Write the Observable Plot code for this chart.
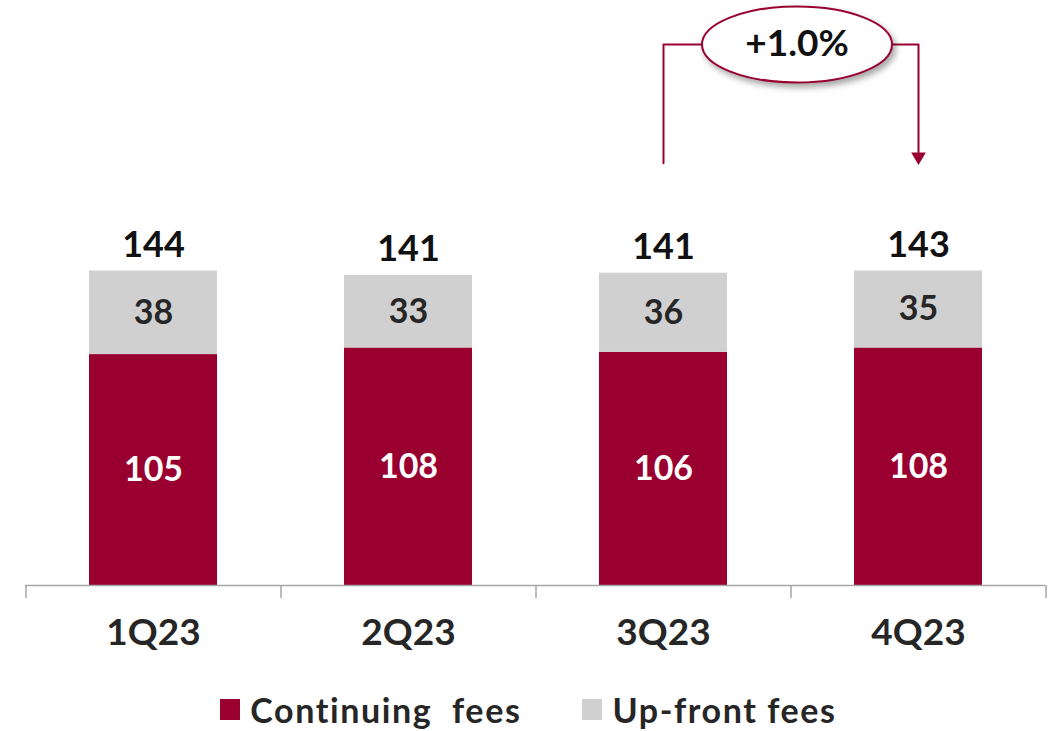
<!DOCTYPE html>
<html>
<head>
<meta charset="utf-8">
<script src="https://cdn.jsdelivr.net/npm/d3@7"></script>
<script src="https://cdn.jsdelivr.net/npm/@observablehq/plot@0.6"></script>
<style>
  html, body { margin: 0; padding: 0; background: #fff; }
  body { width: 1053px; height: 731px; overflow: hidden; font-family: Lato, "Open Sans", sans-serif; }
  #legend { display: flex; justify-content: center; align-items: center; gap: 61px; height: 51px; padding-top: 7px; box-sizing: border-box; font-family: Lato, sans-serif; font-weight: 700; font-size: 34px; letter-spacing: 1.6px; color: #262626; margin-left: 4px; }
  #legend .item { display: flex; align-items: center; gap: 10px; white-space: pre; }
  #legend .sw { width: 20px; height: 21px; display: inline-block; margin-top: 1px; }
</style>
</head>
<body>
<div id="chart"></div>
<div id="legend"></div>
<script>
const categories = ["1Q23", "2Q23", "3Q23", "4Q23"];
const continuing = [105, 108, 106, 108];
const upfront = [38, 33, 36, 35];
const totals = [144, 141, 141, 143];
const seriesNames = ["Continuing  fees", "Up-front fees"];
const seriesColors = ["#990030", "#d0d0d0"];
const growthLabel = "+1.0%";

const rows = [];
categories.forEach((c, i) => {
  rows.push({cat: c, series: seriesNames[0], value: continuing[i]});
  rows.push({cat: c, series: seriesNames[1], value: upfront[i]});
});
const totalRows = categories.map((c, i) => ({cat: c, sum: continuing[i] + upfront[i], label: totals[i]}));

const W = 1053, H = 680, ML = 25, MR = 8;
const step = (W - ML - MR) / categories.length;
const red = seriesColors[0];

// annotation levels (in value units)
const bracketTop = 246, bracketBottom = 192, arrowTipCenter = 195;

const ellipseSymbol = {
  draw(ctx) {
    const rx = 95, ry = 38, k = 0.5523;
    ctx.moveTo(-rx, 0);
    ctx.bezierCurveTo(-rx, -ry * k, -rx * k, -ry, 0, -ry);
    ctx.bezierCurveTo(rx * k, -ry, rx, -ry * k, rx, 0);
    ctx.bezierCurveTo(rx, ry * k, rx * k, ry, 0, ry);
    ctx.bezierCurveTo(-rx * k, ry, -rx, ry * k, -rx, 0);
    ctx.closePath();
  }
};

const chart = Plot.plot({
  width: W,
  height: H,
  marginLeft: ML,
  marginRight: MR,
  marginTop: 0,
  marginBottom: H - 585,
  style: {fontFamily: "Lato, sans-serif", fontWeight: 700, background: "#fff"},
  x: {domain: categories, paddingInner: 0.5, paddingOuter: 0.25, label: null},
  y: {domain: [0, 266], axis: null},
  color: {domain: seriesNames, range: seriesColors},
  marks: [
    Plot.barY(rows, Plot.stackY({x: "cat", y: "value", fill: "series", order: seriesNames})),
    Plot.ruleY([0], {stroke: "#a6a6a6", strokeWidth: 1.5}),
    Plot.ruleX(categories, {x: d => d, y1: 0, y2: 0, dx: -step / 2, stroke: "#a6a6a6", strokeWidth: 1.5, insetBottom: -13}),
    Plot.ruleX([categories[categories.length - 1]], {x: d => d, y1: 0, y2: 0, dx: step / 2, stroke: "#a6a6a6", strokeWidth: 1.5, insetBottom: -13}),
    Plot.text(rows.filter(d => d.series === seriesNames[0]), {x: "cat", y: d => d.value / 2, text: "value", fill: "#ffffff", fontSize: 34, fontWeight: 700}),
    Plot.text(rows.filter(d => d.series === seriesNames[1]), {x: "cat", y: d => {
      const i = categories.indexOf(d.cat); return continuing[i] + d.value / 2; }, text: "value", fill: "#262626", fontSize: 34, fontWeight: 700}),
    Plot.text(totalRows, {x: "cat", y: "sum", text: "label", dy: -14, lineAnchor: "bottom", fill: "#111", fontSize: 36, fontWeight: 700}),
    Plot.axisX({tickSize: 0, tickPadding: 33, fontSize: 37, fontWeight: 700, fill: "#262626", label: null}),
    // growth bracket
    Plot.line([
      {x: categories[2], y: bracketBottom},
      {x: categories[2], y: bracketTop},
      {x: categories[3], y: bracketTop},
      {x: categories[3], y: arrowTipCenter + 2}
    ], {x: "x", y: "y", stroke: red, strokeWidth: 2, curve: "linear"}),
    Plot.dot([{x: categories[3], y: arrowTipCenter}], {x: "x", y: "y", symbol: "triangle2", rotate: 180, r: 7, fill: red, stroke: "none"}),
    Plot.dot([{x: categories[2], y: bracketTop}], {x: "x", y: "y", dx: step / 2 + 6, symbol: ellipseSymbol, r: 10, fill: "#fff", stroke: red, strokeWidth: 2}),
    Plot.text([{x: categories[2], y: bracketTop, label: growthLabel}], {x: "x", y: "y", dx: step / 2 + 6, text: "label", fontSize: 37, fontWeight: 700, fill: "#111"})
  ]
});
// soft shadow under the ellipse
chart.querySelectorAll("path").forEach(p => {
  const d = p.getAttribute("d") || "";
  if (d.startsWith("M-95,0C")) p.style.filter = "drop-shadow(3px 4px 3px rgba(0,0,0,0.35))";
});
document.getElementById("chart").appendChild(chart);

const legend = document.getElementById("legend");
seriesNames.forEach((name, i) => {
  const item = document.createElement("div");
  item.className = "item";
  const sw = document.createElement("span");
  sw.className = "sw";
  sw.style.background = seriesColors[i];
  const t = document.createElement("span");
  t.textContent = name;
  item.appendChild(sw);
  item.appendChild(t);
  legend.appendChild(item);
});
</script>
</body>
</html>
